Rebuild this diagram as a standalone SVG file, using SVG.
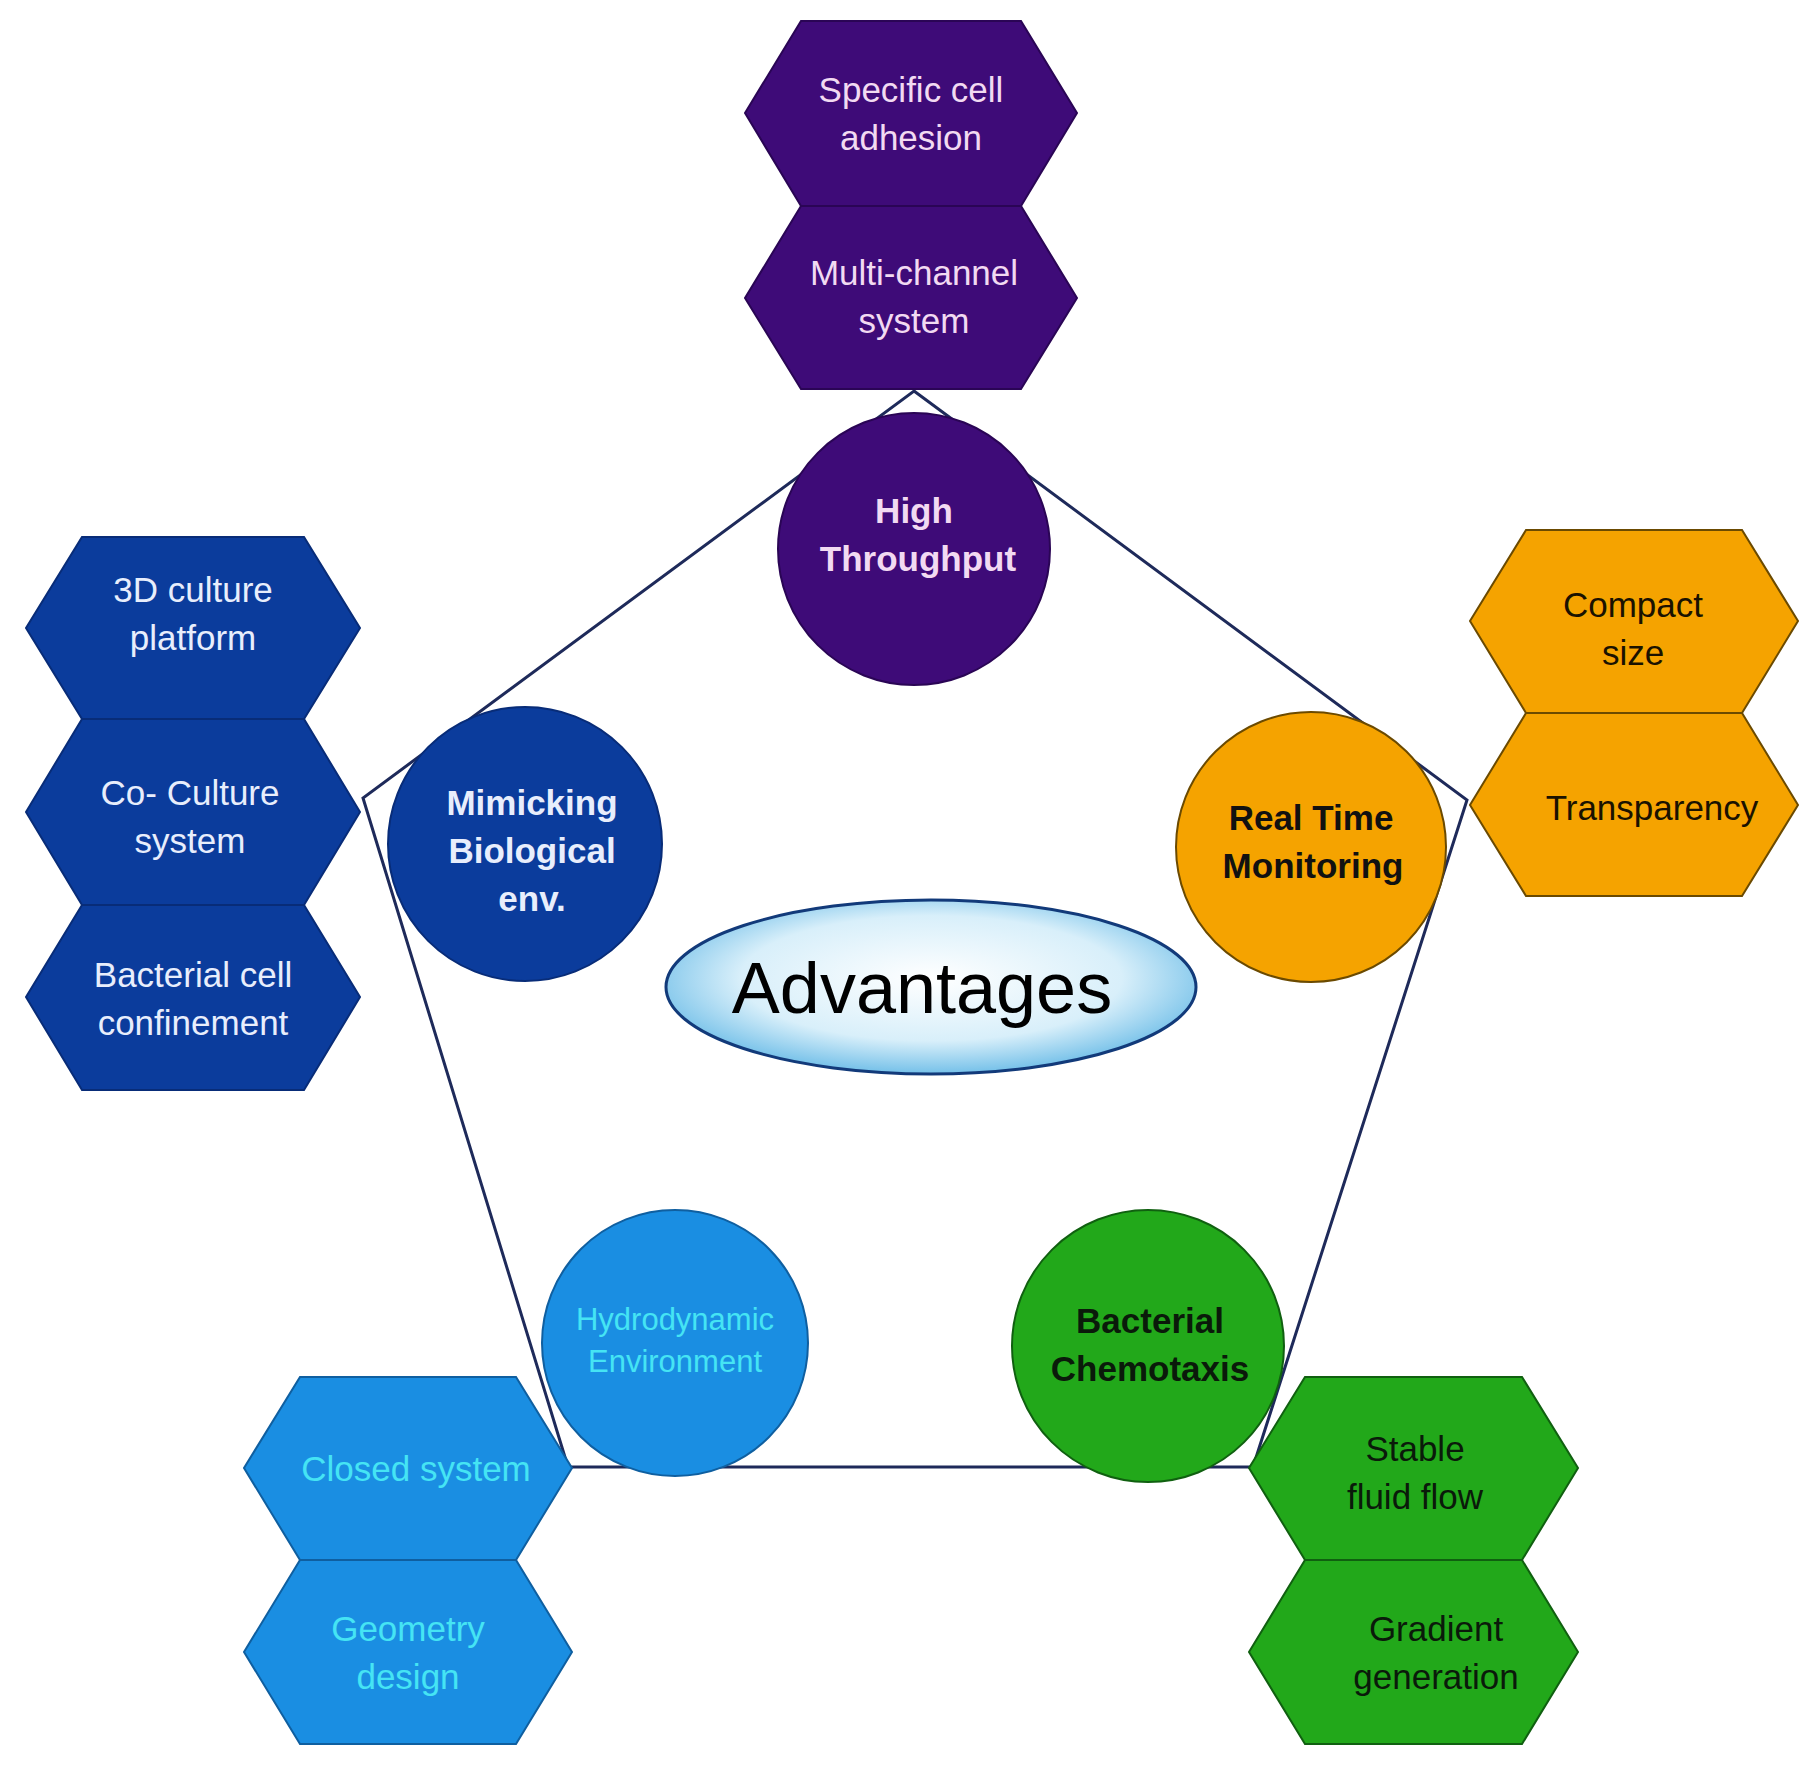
<svg xmlns="http://www.w3.org/2000/svg" width="1818" height="1768" viewBox="0 0 1818 1768">
<style>
text{font-family:"Liberation Sans",Arial,sans-serif;text-anchor:middle}
.h{font-size:35px}
.c{font-size:35px;font-weight:bold}
.pu{fill:#3e0b78;stroke:#2a0555;stroke-width:2}
.db{fill:#0b3c9c;stroke:#082c78;stroke-width:2}
.or{fill:#f5a300;stroke:#6b4a00;stroke-width:2}
.lb{fill:#1a8ee2;stroke:#0f5fa0;stroke-width:2}
.gr{fill:#22a81a;stroke:#106010;stroke-width:2}
</style>
<defs>
<radialGradient id="eg" cx="50%" cy="45%" r="60%">
<stop offset="0" stop-color="#ffffff"/><stop offset="0.6" stop-color="#d8effa"/><stop offset="1" stop-color="#5ab4e4"/>
</radialGradient>
</defs>
<g id="connectors">
<polygon points="914,391 1467,800 1253,1467 568,1467 363,798" fill="none" stroke="#1e2a5a" stroke-width="3"/>
</g>
<g id="hex-specific"><polygon class="pu" points="801,21 1021,21 1077,113 1021,206 801,206 745,113"/><text class="h" fill="#f2daf2" x="911" y="102">Specific cell</text><text class="h" fill="#f2daf2" x="911" y="150">adhesion</text></g>
<g id="hex-multi"><polygon class="pu" points="801,206 1021,206 1077,298 1021,389 801,389 745,298"/><text class="h" fill="#f2daf2" x="914" y="285">Multi-channel</text><text class="h" fill="#f2daf2" x="914" y="333">system</text></g>
<g id="c-high"><circle class="pu" cx="914" cy="549" r="136"/><text class="c" fill="#f2daf2" x="914" y="523">High</text><text class="c" fill="#f2daf2" x="918" y="571">Throughput</text></g>
<g id="hex-3d"><polygon class="db" points="82,537 304,537 360,628 304,719 82,719 26,628"/><text class="h" fill="#e8eefc" x="193" y="602">3D culture</text><text class="h" fill="#e8eefc" x="193" y="650">platform</text></g>
<g id="hex-co"><polygon class="db" points="82,719 304,719 360,812 304,905 82,905 26,812"/><text class="h" fill="#e8eefc" x="190" y="805">Co- Culture</text><text class="h" fill="#e8eefc" x="190" y="853">system</text></g>
<g id="hex-bact"><polygon class="db" points="82,905 304,905 360,997 304,1090 82,1090 26,997"/><text class="h" fill="#e8eefc" x="193" y="987">Bacterial cell</text><text class="h" fill="#e8eefc" x="193" y="1035">confinement</text></g>
<g id="c-mimic"><circle class="db" cx="525" cy="844" r="137"/><text class="c" fill="#e8eefc" x="532" y="815">Mimicking</text><text class="c" fill="#e8eefc" x="532" y="863">Biological</text><text class="c" fill="#e8eefc" x="532" y="911">env.</text></g>
<g id="hex-compact"><polygon class="or" points="1526,530 1742,530 1798,621 1742,713 1526,713 1470,621"/><text class="h" fill="#1a1200" x="1633" y="617">Compact</text><text class="h" fill="#1a1200" x="1633" y="665">size</text></g>
<g id="hex-transp"><polygon class="or" points="1526,713 1742,713 1798,805 1742,896 1526,896 1470,805"/><text class="h" fill="#1a1200" x="1652" y="820">Transparency</text></g>
<g id="c-real"><circle class="or" cx="1311" cy="847" r="135"/><text class="c" fill="#111" x="1311" y="830">Real Time</text><text class="c" fill="#111" x="1313" y="878">Monitoring</text></g>
<g id="center"><ellipse cx="931" cy="987" rx="265" ry="87" fill="url(#eg)" stroke="#123a7a" stroke-width="3"/><text x="922" y="1013" font-size="72" fill="#000">Advantages</text></g>
<g id="c-hydro"><circle class="lb" cx="675" cy="1343" r="133"/><text font-size="31" fill="#45e4f4" x="675" y="1330">Hydrodynamic</text><text font-size="31" fill="#45e4f4" x="675" y="1372">Environment</text></g>
<g id="c-chemo"><circle class="gr" cx="1148" cy="1346" r="136"/><text class="c" fill="#0a1a0a" x="1150" y="1333">Bacterial</text><text class="c" fill="#0a1a0a" x="1150" y="1381">Chemotaxis</text></g>
<g id="hex-closed"><polygon class="lb" points="300,1377 516,1377 572,1468 516,1560 300,1560 244,1468"/><text class="h" fill="#45e4f4" x="416" y="1481">Closed system</text></g>
<g id="hex-geom"><polygon class="lb" points="300,1560 516,1560 572,1652 516,1744 300,1744 244,1652"/><text class="h" fill="#45e4f4" x="408" y="1641">Geometry</text><text class="h" fill="#45e4f4" x="408" y="1689">design</text></g>
<g id="hex-stable"><polygon class="gr" points="1305,1377 1522,1377 1578,1468 1522,1560 1305,1560 1249,1468"/><text class="h" fill="#0a1a0a" x="1415" y="1461">Stable</text><text class="h" fill="#0a1a0a" x="1415" y="1509">fluid flow</text></g>
<g id="hex-grad"><polygon class="gr" points="1305,1560 1522,1560 1578,1652 1522,1744 1305,1744 1249,1652"/><text class="h" fill="#0a1a0a" x="1436" y="1641">Gradient</text><text class="h" fill="#0a1a0a" x="1436" y="1689">generation</text></g>
</svg>
